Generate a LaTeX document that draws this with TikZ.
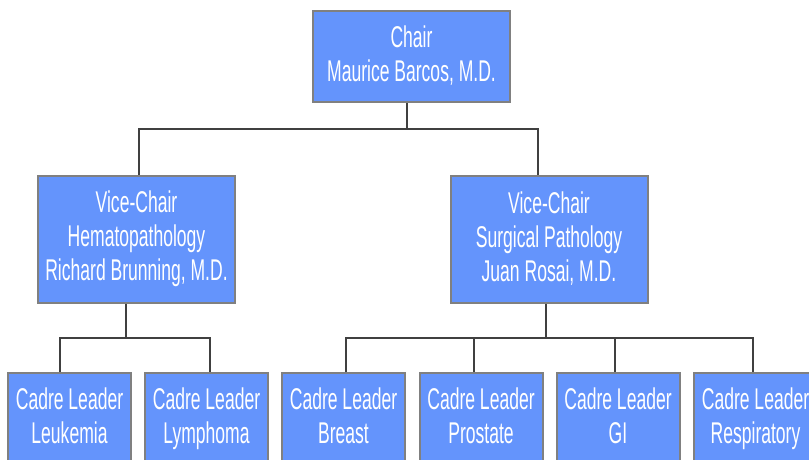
\documentclass[tikz,border=0pt]{standalone}
\usepackage{fontspec}
\setmainfont{Liberation Sans}[FakeStretch=0.585]
\definecolor{boxfill}{RGB}{100,148,252}
\definecolor{boxline}{RGB}{128,128,128}
\definecolor{connline}{RGB}{64,64,64}
\newcommand{\ls}{\rule[-5.5pt]{0pt}{27.5pt}}
\begin{document}
\begin{tikzpicture}[x=1pt,y=-1pt,
  orgbox/.style={draw=boxline, line width=2pt, fill=boxfill, text=white,
    inner sep=0pt, align=center, font=\fontsize{30}{34}\selectfont},
  topbox/.style={orgbox, minimum width=197pt, minimum height=91pt},
  vicebox/.style={orgbox, minimum width=197pt, minimum height=127pt},
  cadrebox/.style={orgbox, minimum width=123pt, minimum height=91pt},
  conn/.style={draw=connline, line width=1.6pt}]
\useasboundingbox (0,0) rectangle (809,460);
% boxes
\node[topbox] (chair) at (411.5,56.5) {\ls Chair\\\ls Maurice Barcos, M.D.};
\node[vicebox] (vl) at (136.5,239) {\ls Vice-Chair\\\ls Hematopathology\\\ls Richard Brunning, M.D.};
\node[vicebox] (vr) at (549,239) {\ls Vice-Chair\\\ls Surgical Pathology\\\ls Juan Rosai, M.D.};
\node[cadrebox] (leuk) at (69.5,418.5) {\ls Cadre Leader\\\ls Leukemia};
\node[cadrebox] (lymph) at (206.5,418.5) {\ls Cadre Leader\\\ls Lymphoma};
\node[cadrebox] (breast) at (343.5,418.5) {\ls Cadre Leader\\\ls Breast};
\node[cadrebox] (prost) at (481,418.5) {\ls Cadre Leader\\\ls Prostate};
\node[cadrebox] (gi) at (618,418.5) {\ls Cadre Leader\\\ls GI};
\node[cadrebox] (resp) at (755.5,418.5) {\ls Cadre Leader\\\ls Respiratory};
% junction coordinates
\coordinate (b0) at (407,129);
\coordinate (h1L) at (139,129);
\coordinate (h1R) at (538,129);
\coordinate (bl) at (126,338);
\coordinate (br) at (546,338);
\coordinate (c1) at (60,338);
\coordinate (c2) at (210,338);
\coordinate (c3) at (346,338);
\coordinate (c4) at (474,338);
\coordinate (c5) at (615,338);
\coordinate (c6) at (753,338);
% connectors level 1
\draw[conn] (b0 |- chair.south) -- (b0);
\draw[conn] (h1L |- vl.north) -- (h1L) -- (h1R) -- (h1R |- vr.north);
% connectors level 2 left
\draw[conn] (bl |- vl.south) -- (bl);
\draw[conn] (c1 |- leuk.north) -- (c1) -- (c2) -- (c2 |- lymph.north);
% connectors level 2 right
\draw[conn] (br |- vr.south) -- (br);
\draw[conn] (c3 |- breast.north) -- (c3) -- (c6) -- (c6 |- resp.north);
\draw[conn] (c4) -- (c4 |- prost.north);
\draw[conn] (c5) -- (c5 |- gi.north);
\end{tikzpicture}
\end{document}
